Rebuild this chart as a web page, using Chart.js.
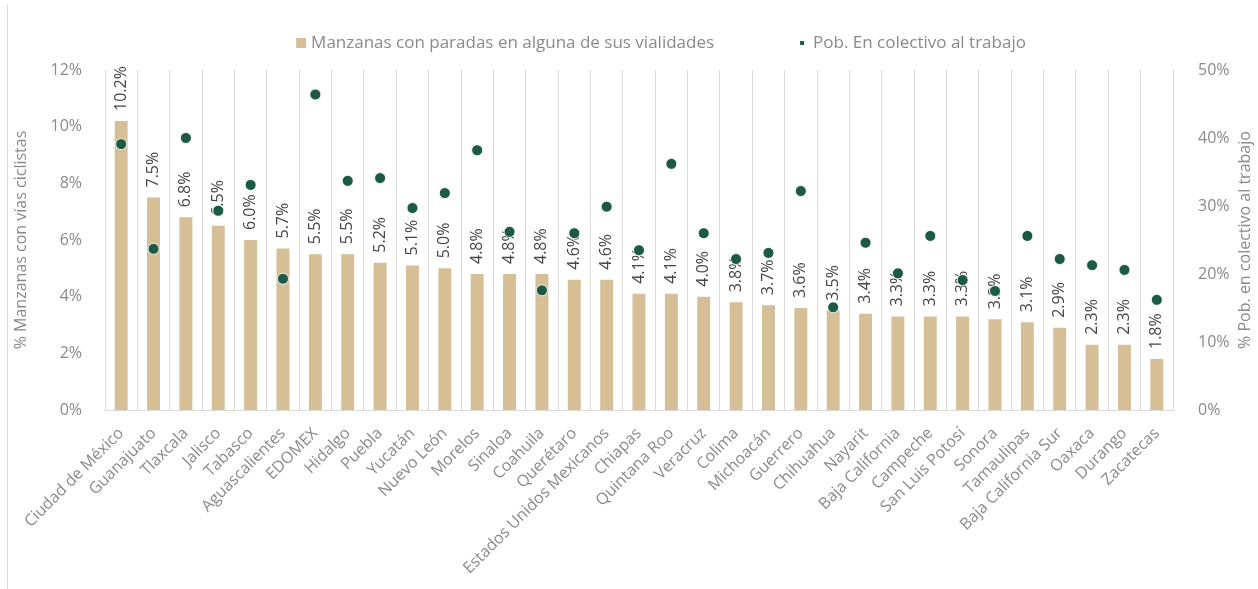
<!DOCTYPE html>
<html>
<head>
<meta charset="utf-8">
<script src="https://cdn.jsdelivr.net/npm/chart.js@4"></script>
<style>
  html, body { margin: 0; padding: 0; background: #ffffff; }
  #wrap { position: relative; width: 1258px; height: 589px; }
  #frame { position: absolute; left: 7px; top: 4px; width: 1px; height: 585px; background: #dcdcdc; }
</style>
</head>
<body>
<div id="wrap">
  <div id="frame"></div>
  <canvas id="myChart" width="1258" height="589"></canvas>
</div>
<script>
var estados = ['Ciudad de México', 'Guanajuato', 'Tlaxcala', 'Jalisco', 'Tabasco', 'Aguascalientes',
    'EDOMEX', 'Hidalgo', 'Puebla', 'Yucatán', 'Nuevo León', 'Morelos', 'Sinaloa', 'Coahuila',
    'Querétaro', 'Estados Unidos Mexicanos', 'Chiapas', 'Quintana Roo', 'Veracruz', 'Colima',
    'Michoacán', 'Guerrero', 'Chihuahua', 'Nayarit', 'Baja California', 'Campeche',
    'San Luis Potosí', 'Sonora', 'Tamaulipas', 'Baja California Sur', 'Oaxaca', 'Durango', 'Zacatecas'];

// % de manzanas con paradas en alguna de sus vialidades (eje izquierdo)
var manzanas = [10.2, 7.5, 6.8, 6.5, 6.0, 5.7, 5.5, 5.5, 5.2, 5.1, 5.0, 4.8, 4.8, 4.8, 4.6, 4.6,
    4.1, 4.1, 4.0, 3.8, 3.7, 3.6, 3.5, 3.4, 3.3, 3.3, 3.3, 3.2, 3.1, 2.9, 2.3, 2.3, 1.8];

// % de población que va al trabajo en transporte colectivo (eje derecho)
var colectivo = [39.1, 23.7, 40.0, 29.3, 33.1, 19.3, 46.4, 33.7, 34.1, 29.7, 31.9, 38.2, 26.2,
    17.6, 26.0, 29.9, 23.5, 36.2, 26.0, 22.2, 23.1, 32.2, 15.1, 24.6, 20.1, 25.6, 19.1, 17.5,
    25.6, 22.2, 21.3, 20.6, 16.2];

var ticksIzq = [0, 2, 4, 6, 8, 10, 12];
var ticksDer = [0, 10, 20, 30, 40, 50];

var FONT = '"Open Sans", Lato, sans-serif';
var GRIS = '#8a8a8a';
var BEIGE = '#d6bf97';
var VERDE = '#1d5a45';

// etiquetas de valor giradas sobre cada barra
var etiquetas = {
    id: 'etiquetas',
    afterDatasetDraw: function (chart, args) {
        if (args.index !== 0) return;
        var ctx = chart.ctx;
        ctx.save();
        ctx.font = '16px ' + FONT;
        ctx.fillStyle = '#454545';
        ctx.textAlign = 'left';
        ctx.textBaseline = 'middle';
        args.meta.data.forEach(function (bar, i) {
            ctx.save();
            ctx.translate(bar.x, bar.y - 10);
            ctx.rotate(-Math.PI / 2);
            ctx.fillText(manzanas[i].toFixed(1) + '%', 0, 0);
            ctx.restore();
        });
        ctx.restore();
    }
};

// leyenda arriba y título del eje derecho (leído de abajo hacia arriba)
var extras = {
    id: 'extras',
    afterDraw: function (chart) {
        var ctx = chart.ctx;
        var area = chart.chartArea;
        var ds = chart.data.datasets;
        ctx.save();
        ctx.font = '17px ' + FONT;
        ctx.fillStyle = GRIS;
        ctx.textBaseline = 'middle';
        var gap = 86, box = 10, sep = 5;
        var w0 = box + sep + ctx.measureText(ds[0].label).width;
        var w1 = 4 + sep + 4 + ctx.measureText(ds[1].label).width;
        var x = chart.width / 2 + 32 - (w0 + gap + w1) / 2;
        var y = 43;
        ctx.fillStyle = ds[0].backgroundColor;
        ctx.fillRect(x, y - box / 2, box, box);
        ctx.fillStyle = GRIS;
        ctx.fillText(ds[0].label, x + box + sep, y);
        x += w0 + gap;
        ctx.fillStyle = ds[1].pointBackgroundColor;
        ctx.fillRect(x, y - 2, 4, 4);
        ctx.fillStyle = GRIS;
        ctx.fillText(ds[1].label, x + 4 + sep + 4, y);

        ctx.translate(chart.width - 13, (area.top + area.bottom) / 2);
        ctx.rotate(-Math.PI / 2);
        ctx.textAlign = 'center';
        ctx.font = '16px ' + FONT;
        ctx.fillText('% Pob. en colectivo al trabajo', 0, 0);
        ctx.restore();
    }
};

var ctx = document.getElementById('myChart').getContext('2d');
var myChart = new Chart(ctx, {
    data: {
        labels: estados,
        datasets: [{
            type: 'bar',
            label: 'Manzanas con paradas en alguna de sus vialidades',
            data: manzanas,
            yAxisID: 'y',
            backgroundColor: BEIGE,
            categoryPercentage: 1,
            barPercentage: 0.4,
            order: 1
        }, {
            type: 'line',
            label: 'Pob. En colectivo al trabajo',
            data: colectivo,
            yAxisID: 'y1',
            showLine: false,
            pointRadius: 5.5,
            pointBackgroundColor: VERDE,
            pointBorderColor: 'rgba(255,255,255,0.85)',
            pointBorderWidth: 1,
            order: 0
        }]
    },
    options: {
        responsive: false,
        animation: false,
        layout: { padding: { left: 8, right: 0, top: 70, bottom: 8 } },
        plugins: {
            legend: { display: false },
            tooltip: { enabled: false }
        },
        scales: {
            x: {
                offset: true,
                grid: { offset: true, color: '#d9d9d9', drawTicks: false },
                border: { color: '#d9d9d9' },
                ticks: {
                    color: GRIS,
                    font: { family: FONT, size: 16 },
                    maxRotation: 45,
                    minRotation: 45,
                    padding: 14,
                    autoSkip: false
                },
                afterFit: function (scale) { scale.height = 171; }
            },
            y: {
                position: 'left',
                min: 0,
                max: 12,
                afterBuildTicks: function (scale) {
                    scale.ticks = ticksIzq.map(function (v) { return { value: v }; });
                },
                afterFit: function (scale) { scale.width = 97; },
                grid: { display: false },
                border: { display: false },
                ticks: {
                    color: GRIS,
                    font: { family: FONT, size: 16 },
                    padding: 15,
                    callback: function (v) { return v + '%'; }
                },
                title: {
                    display: true,
                    text: '% Manzanas con vías ciclistas',
                    color: GRIS,
                    font: { family: FONT, size: 16 }
                }
            },
            y1: {
                position: 'right',
                min: 0,
                max: 50,
                afterBuildTicks: function (scale) {
                    scale.ticks = ticksDer.map(function (v) { return { value: v }; });
                },
                afterFit: function (scale) { scale.width = 85; },
                grid: { display: false },
                border: { display: false },
                ticks: {
                    color: GRIS,
                    font: { family: FONT, size: 16 },
                    padding: 17,
                    callback: function (v) { return v + '%'; }
                }
            }
        }
    },
    plugins: [etiquetas, extras]
});
</script>
</body>
</html>
